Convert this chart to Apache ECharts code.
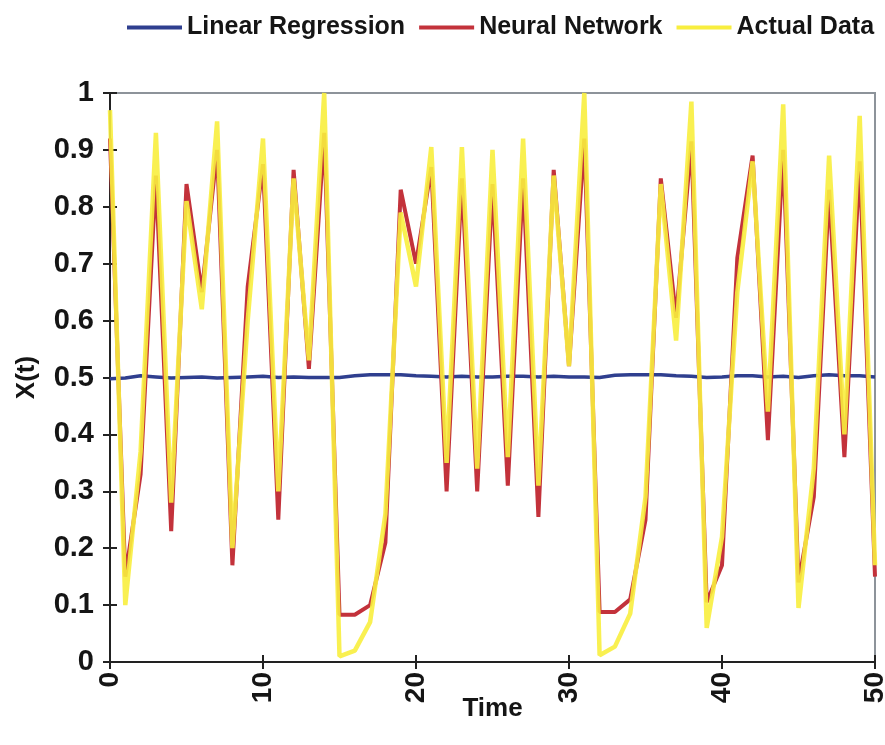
<!DOCTYPE html>
<html>
<head>
<meta charset="utf-8">
<script src="https://cdn.jsdelivr.net/npm/echarts@6/dist/echarts.min.js"></script>
<style>
html,body{margin:0;padding:0;background:#fff;}
#chart{width:885px;height:745px;}
</style>
</head>
<body>
<div id="chart"></div>
<script>
const seriesNames = ['Linear Regression', 'Neural Network', 'Actual Data'];
const time = [0,1,2,3,4,5,6,7,8,9,10,11,12,13,14,15,16,17,18,19,20,21,22,23,24,25,26,27,28,29,30,31,32,33,34,35,36,37,38,39,40,41,42,43,44,45,46,47,48,49,50];
const actualData = [0.97,0.10,0.37,0.93,0.28,0.81,0.62,0.95,0.20,0.60,0.92,0.30,0.85,0.53,1.00,0.01,0.02,0.07,0.26,0.79,0.66,0.905,0.35,0.905,0.34,0.90,0.36,0.92,0.31,0.855,0.52,1.00,0.012,0.027,0.085,0.29,0.84,0.565,0.985,0.06,0.22,0.65,0.88,0.44,0.98,0.095,0.34,0.89,0.40,0.96,0.17];
const neuralNetwork = [0.92,0.15,0.33,0.855,0.23,0.84,0.65,0.90,0.17,0.66,0.875,0.25,0.865,0.515,0.93,0.083,0.083,0.10,0.21,0.83,0.70,0.87,0.30,0.85,0.30,0.84,0.31,0.85,0.255,0.865,0.52,0.92,0.088,0.088,0.11,0.25,0.85,0.605,0.915,0.105,0.17,0.71,0.89,0.39,0.90,0.14,0.29,0.83,0.36,0.88,0.15];
const linearRegression = [0.498,0.499,0.503,0.501,0.499,0.500,0.501,0.499,0.500,0.501,0.502,0.500,0.501,0.500,0.500,0.500,0.503,0.505,0.505,0.505,0.503,0.502,0.501,0.502,0.501,0.501,0.502,0.502,0.501,0.502,0.501,0.501,0.500,0.504,0.505,0.505,0.505,0.503,0.502,0.500,0.501,0.503,0.503,0.501,0.502,0.500,0.503,0.505,0.503,0.503,0.501];
const xTicks = [0,10,20,30,40,50];
const yTicks = [0,0.1,0.2,0.3,0.4,0.5,0.6,0.7,0.8,0.9,1];

const pairs = arr => time.map((t, i) => [t, arr[i]]);
const FONT = "'Liberation Sans', Arial, sans-serif";
const TXT = '#151515';

const chart = echarts.init(document.getElementById('chart'), null, {renderer: 'canvas'});
chart.setOption({
  animation: false,
  backgroundColor: '#ffffff',
  textStyle: {fontFamily: FONT},
  legend: {
    data: seriesNames,
    left: 127, top: 15, width: 758, padding: 0,
    icon: 'rect',
    itemWidth: 55, itemHeight: 4, itemGap: 14,
    textStyle: {fontSize: 25, fontWeight: 'bold', color: TXT, fontFamily: FONT}
  },
  grid: {left: 110, right: 10, top: 93, bottom: 83, containLabel: false, outerBoundsMode: 'none',
    show: true, borderColor: '#8d939a', borderWidth: 2, backgroundColor: 'transparent'},
  xAxis: [{
    type: 'value', min: xTicks[0], max: xTicks[xTicks.length-1], interval: 10,
    name: 'Time', nameLocation: 'middle', nameGap: 34, nameMoveOverlap: false,
    nameTextStyle: {fontSize: 26, fontWeight: 'bold', color: TXT, fontFamily: FONT},
    axisLine: {show: true, lineStyle: {color: '#222', width: 2}},
    axisTick: {show: true, length: 7, lineStyle: {color: '#222', width: 2}},
    axisLabel: {rotate: 90, fontSize: 28, fontWeight: 'bold', color: TXT, margin: 10, fontFamily: FONT},
    splitLine: {show: false}
  }, {
    type: 'value', position: 'bottom', min: xTicks[0], max: xTicks[xTicks.length-1], interval: 10,
    axisLine: {show: false},
    axisTick: {show: true, inside: true, length: 7, lineStyle: {color: '#222', width: 2}},
    axisLabel: {show: false}, splitLine: {show: false}
  }],
  yAxis: [{
    type: 'value', min: yTicks[0], max: yTicks[yTicks.length-1], interval: 0.1,
    name: 'X(t)', nameLocation: 'middle', nameGap: 70, nameRotate: 90, nameMoveOverlap: false,
    nameTextStyle: {fontSize: 26, fontWeight: 'bold', color: TXT, fontFamily: FONT},
    axisLine: {show: true, lineStyle: {color: '#222', width: 2}},
    axisTick: {show: true, length: 7, lineStyle: {color: '#222', width: 2}},
    axisLabel: {fontSize: 29, fontWeight: 'bold', color: TXT, margin: 16, fontFamily: FONT,
      formatter: v => String(Math.round(v * 10) / 10)},
    splitLine: {show: false}
  }, {
    type: 'value', position: 'left', min: yTicks[0], max: yTicks[yTicks.length-1], interval: 0.1,
    axisLine: {show: false},
    axisTick: {show: true, inside: true, length: 7, lineStyle: {color: '#222', width: 2}},
    axisLabel: {show: false}, splitLine: {show: false}
  }],
  series: [{
    name: seriesNames[0], type: 'line', data: pairs(linearRegression),
    symbol: 'none', z: 2, color: '#2f3f8f',
    lineStyle: {color: '#2f3f8f', width: 3.5}
  }, {
    name: seriesNames[1], type: 'line', data: pairs(neuralNetwork),
    symbol: 'none', z: 3, color: '#c3323b',
    lineStyle: {color: '#c3323b', width: 4}
  }, {
    name: seriesNames[2], type: 'line', data: pairs(actualData),
    symbol: 'none', z: 4, color: '#f8ee3e',
    lineStyle: {color: '#f8ee3e', width: 4.5, opacity: 0.9}
  }]
});
</script>
</body>
</html>
